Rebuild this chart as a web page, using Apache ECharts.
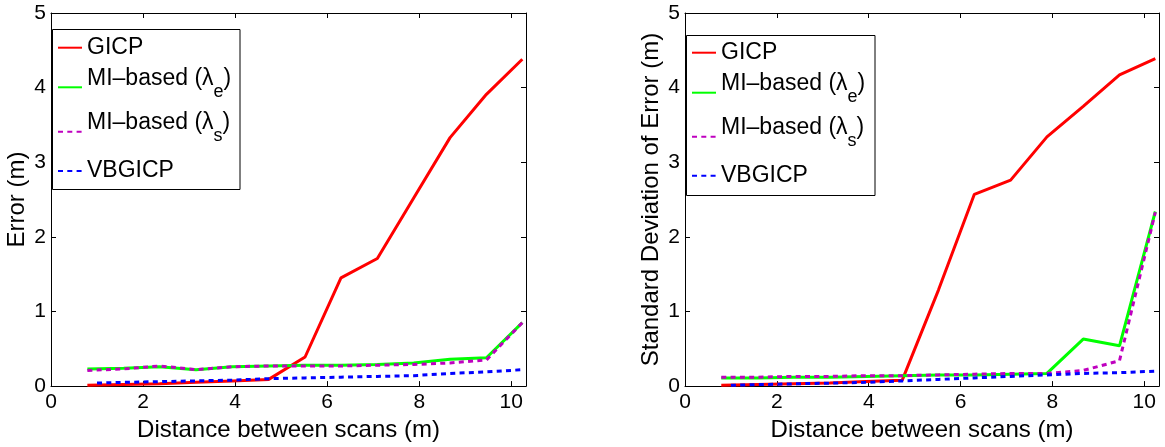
<!DOCTYPE html>
<html><head><meta charset="utf-8">
<script src="https://cdn.jsdelivr.net/npm/echarts@6/dist/echarts.min.js"></script>
<style>html,body{margin:0;padding:0;background:#fff}#c{width:1165px;height:447px}</style>
</head><body><div id="c"></div>
<script>
// ---------- data ----------
const xTicks = [0, 2, 4, 6, 8, 10];
const yTicks = [0, 1, 2, 3, 4, 5];
const seriesNames = ['GICP', 'MI–based (λe)', 'MI–based (λs)', 'VBGICP'];
const distance   = [0.79, 1.58, 2.36, 3.15, 3.94, 4.73, 5.52, 6.30, 7.09, 7.88, 8.67, 9.46, 10.24];
const distanceVB = [1.00, 1.58, 2.36, 3.15, 3.94, 4.73, 5.52, 6.30, 7.09, 7.88, 8.67, 9.46, 10.24];

// left panel: Error (m)
const errGICP   = [0.01, 0.02, 0.03, 0.05, 0.07, 0.09, 0.39, 1.45, 1.71, 2.52, 3.33, 3.91, 4.38];
const errMIe    = [0.23, 0.24, 0.26, 0.22, 0.26, 0.27, 0.28, 0.28, 0.29, 0.31, 0.36, 0.38, 0.85];
const errMIs    = [0.21, 0.23, 0.27, 0.22, 0.26, 0.27, 0.27, 0.27, 0.28, 0.29, 0.31, 0.35, 0.85];
const errVB     = [0.04, 0.05, 0.06, 0.07, 0.08, 0.10, 0.11, 0.12, 0.13, 0.14, 0.17, 0.19, 0.22];

// right panel: Standard deviation of error (m)
const sdGICP    = [0.01, 0.02, 0.03, 0.04, 0.06, 0.08, 1.29, 2.57, 2.76, 3.34, 3.75, 4.17, 4.39];
const sdMIe     = [0.11, 0.11, 0.12, 0.12, 0.13, 0.14, 0.15, 0.15, 0.16, 0.17, 0.63, 0.54, 2.34];
const sdMIs     = [0.12, 0.12, 0.13, 0.13, 0.14, 0.14, 0.15, 0.16, 0.17, 0.17, 0.21, 0.34, 2.33];
const sdVB      = [0.01, 0.02, 0.03, 0.04, 0.05, 0.07, 0.09, 0.11, 0.13, 0.15, 0.17, 0.18, 0.20];

const xTitle = 'Distance between scans (m)';
const yTitles = ['Error (m)', 'Standard Deviation of Error (m)'];

// ---------- styling ----------
const F = '"Liberation Sans", Arial, Helvetica, sans-serif';
const colors = ['#ff0000', '#00ff00', '#bf00bf', '#0000ff'];
const dashes = ['solid', 'solid', [5, 4.3], [5, 4.3]];
const XMAX = 10.32;

const pairs = (xs, ys) => xs.map((x, i) => [x, ys[i]]);

function mkAxes(g) {
  const common = {
    gridIndex: g, type: 'value', min: 0,
    axisLine: { show: true, onZero: false, lineStyle: { color: '#000', width: 1 } },
    axisTick: { show: true, inside: true, length: 5, lineStyle: { color: '#000', width: 1 } },
    splitLine: { show: false }
  };
  const xa = [
    Object.assign({}, common, {
      position: 'bottom', max: XMAX, interval: 2,
      axisLabel: { color: '#000', fontSize: 21, fontFamily: F, margin: 6,
        formatter: v => (xTicks.indexOf(Math.round(v * 1000) / 1000) >= 0 ? String(v) : '') },
      name: xTitle, nameLocation: 'middle', nameGap: 25,
      nameTextStyle: { color: '#000', fontSize: 24, fontFamily: F }
    }),
    Object.assign({}, common, { position: 'top', max: XMAX, interval: 2, axisLabel: { show: false } })
  ];
  const ya = [
    Object.assign({}, common, {
      position: 'left', max: 5, interval: 1,
      axisLabel: { color: '#000', fontSize: 21, fontFamily: F, margin: 5,
        formatter: v => (yTicks.indexOf(v) >= 0 ? String(v) : '') },
      name: yTitles[g], nameLocation: 'middle', nameGap: 22,
      nameTextStyle: { color: '#000', fontSize: 24, fontFamily: F }
    }),
    Object.assign({}, common, { position: 'right', max: 5, interval: 1, axisLabel: { show: false } })
  ];
  return { xa, ya };
}

const a0 = mkAxes(0), a1 = mkAxes(1);

function mkSeries(g, ysets) {
  return ysets.map((ys, i) => ({
    type: 'line', name: seriesNames[i],
    xAxisIndex: g * 2, yAxisIndex: g * 2,
    data: pairs(i === 3 ? distanceVB : distance, ys),
    symbol: 'none', showSymbol: false,
    lineStyle: { color: colors[i], width: 3, type: dashes[i], cap: 'butt' },
    itemStyle: { color: colors[i] },
    z: 2 + i, animation: false
  }));
}

const richLabel = {
  'GICP': 'GICP',
  'MI–based (λe)': '{a|MI–based (λ}{b|e}{a|)}',
  'MI–based (λs)': '{a|MI–based (λ}{b|s}{a|)}',
  'VBGICP': 'VBGICP'
};

function legendFor(name, left, top) {
  return {
    data: [name], left: left, top: top, orient: 'vertical', padding: 0,
    itemWidth: 24, itemHeight: 14, itemGap: 0, selectedMode: false, z: 5,
    lineStyle: { width: 2 }, itemStyle: { opacity: 0 },
    formatter: n => richLabel[n],
    textStyle: {
      color: '#000', fontSize: 23, fontFamily: F, lineHeight: 26,
      rich: {
        a: { color: '#000', fontSize: 23, fontFamily: F, lineHeight: 42, padding: [0, 0, 18, 0], verticalAlign: 'middle' },
        b: { color: '#000', fontSize: 18, fontFamily: F, lineHeight: 42, padding: [9, 0, 0, 0], verticalAlign: 'middle' }
      }
    }
  };
}

const option = {
  animation: false,
  backgroundColor: '#fff',
  grid: [
    { left: 51, top: 13, width: 475, height: 380 },
    { left: 685, top: 13, width: 474, height: 380 }
  ],
  xAxis: a0.xa.concat(a1.xa),
  yAxis: a0.ya.concat(a1.ya),
  legend: [
    legendFor(seriesNames[0], 57, 34.7),
    legendFor(seriesNames[1], 57, 66.3),
    legendFor(seriesNames[2], 57, 110.7),
    legendFor(seriesNames[3], 57, 158),
    legendFor(seriesNames[0], 691, 39.7),
    legendFor(seriesNames[1], 691, 71.7),
    legendFor(seriesNames[2], 691, 115.7),
    legendFor(seriesNames[3], 691, 162.7)
  ],
  graphic: [
    { type: 'rect', z: 3, shape: { x: 52.5, y: 29.5, width: 187.5, height: 160 },
      style: { fill: '#fff', stroke: '#000', lineWidth: 1 } },
    { type: 'rect', z: 3, shape: { x: 686.5, y: 35.5, width: 188.5, height: 160 },
      style: { fill: '#fff', stroke: '#000', lineWidth: 1 } }
  ],
  series: mkSeries(0, [errGICP, errMIe, errMIs, errVB]).concat(mkSeries(1, [sdGICP, sdMIe, sdMIs, sdVB]))
};

const chart = echarts.init(document.getElementById('c'), null, { renderer: 'canvas' });
chart.setOption(option);
</script></body></html>
